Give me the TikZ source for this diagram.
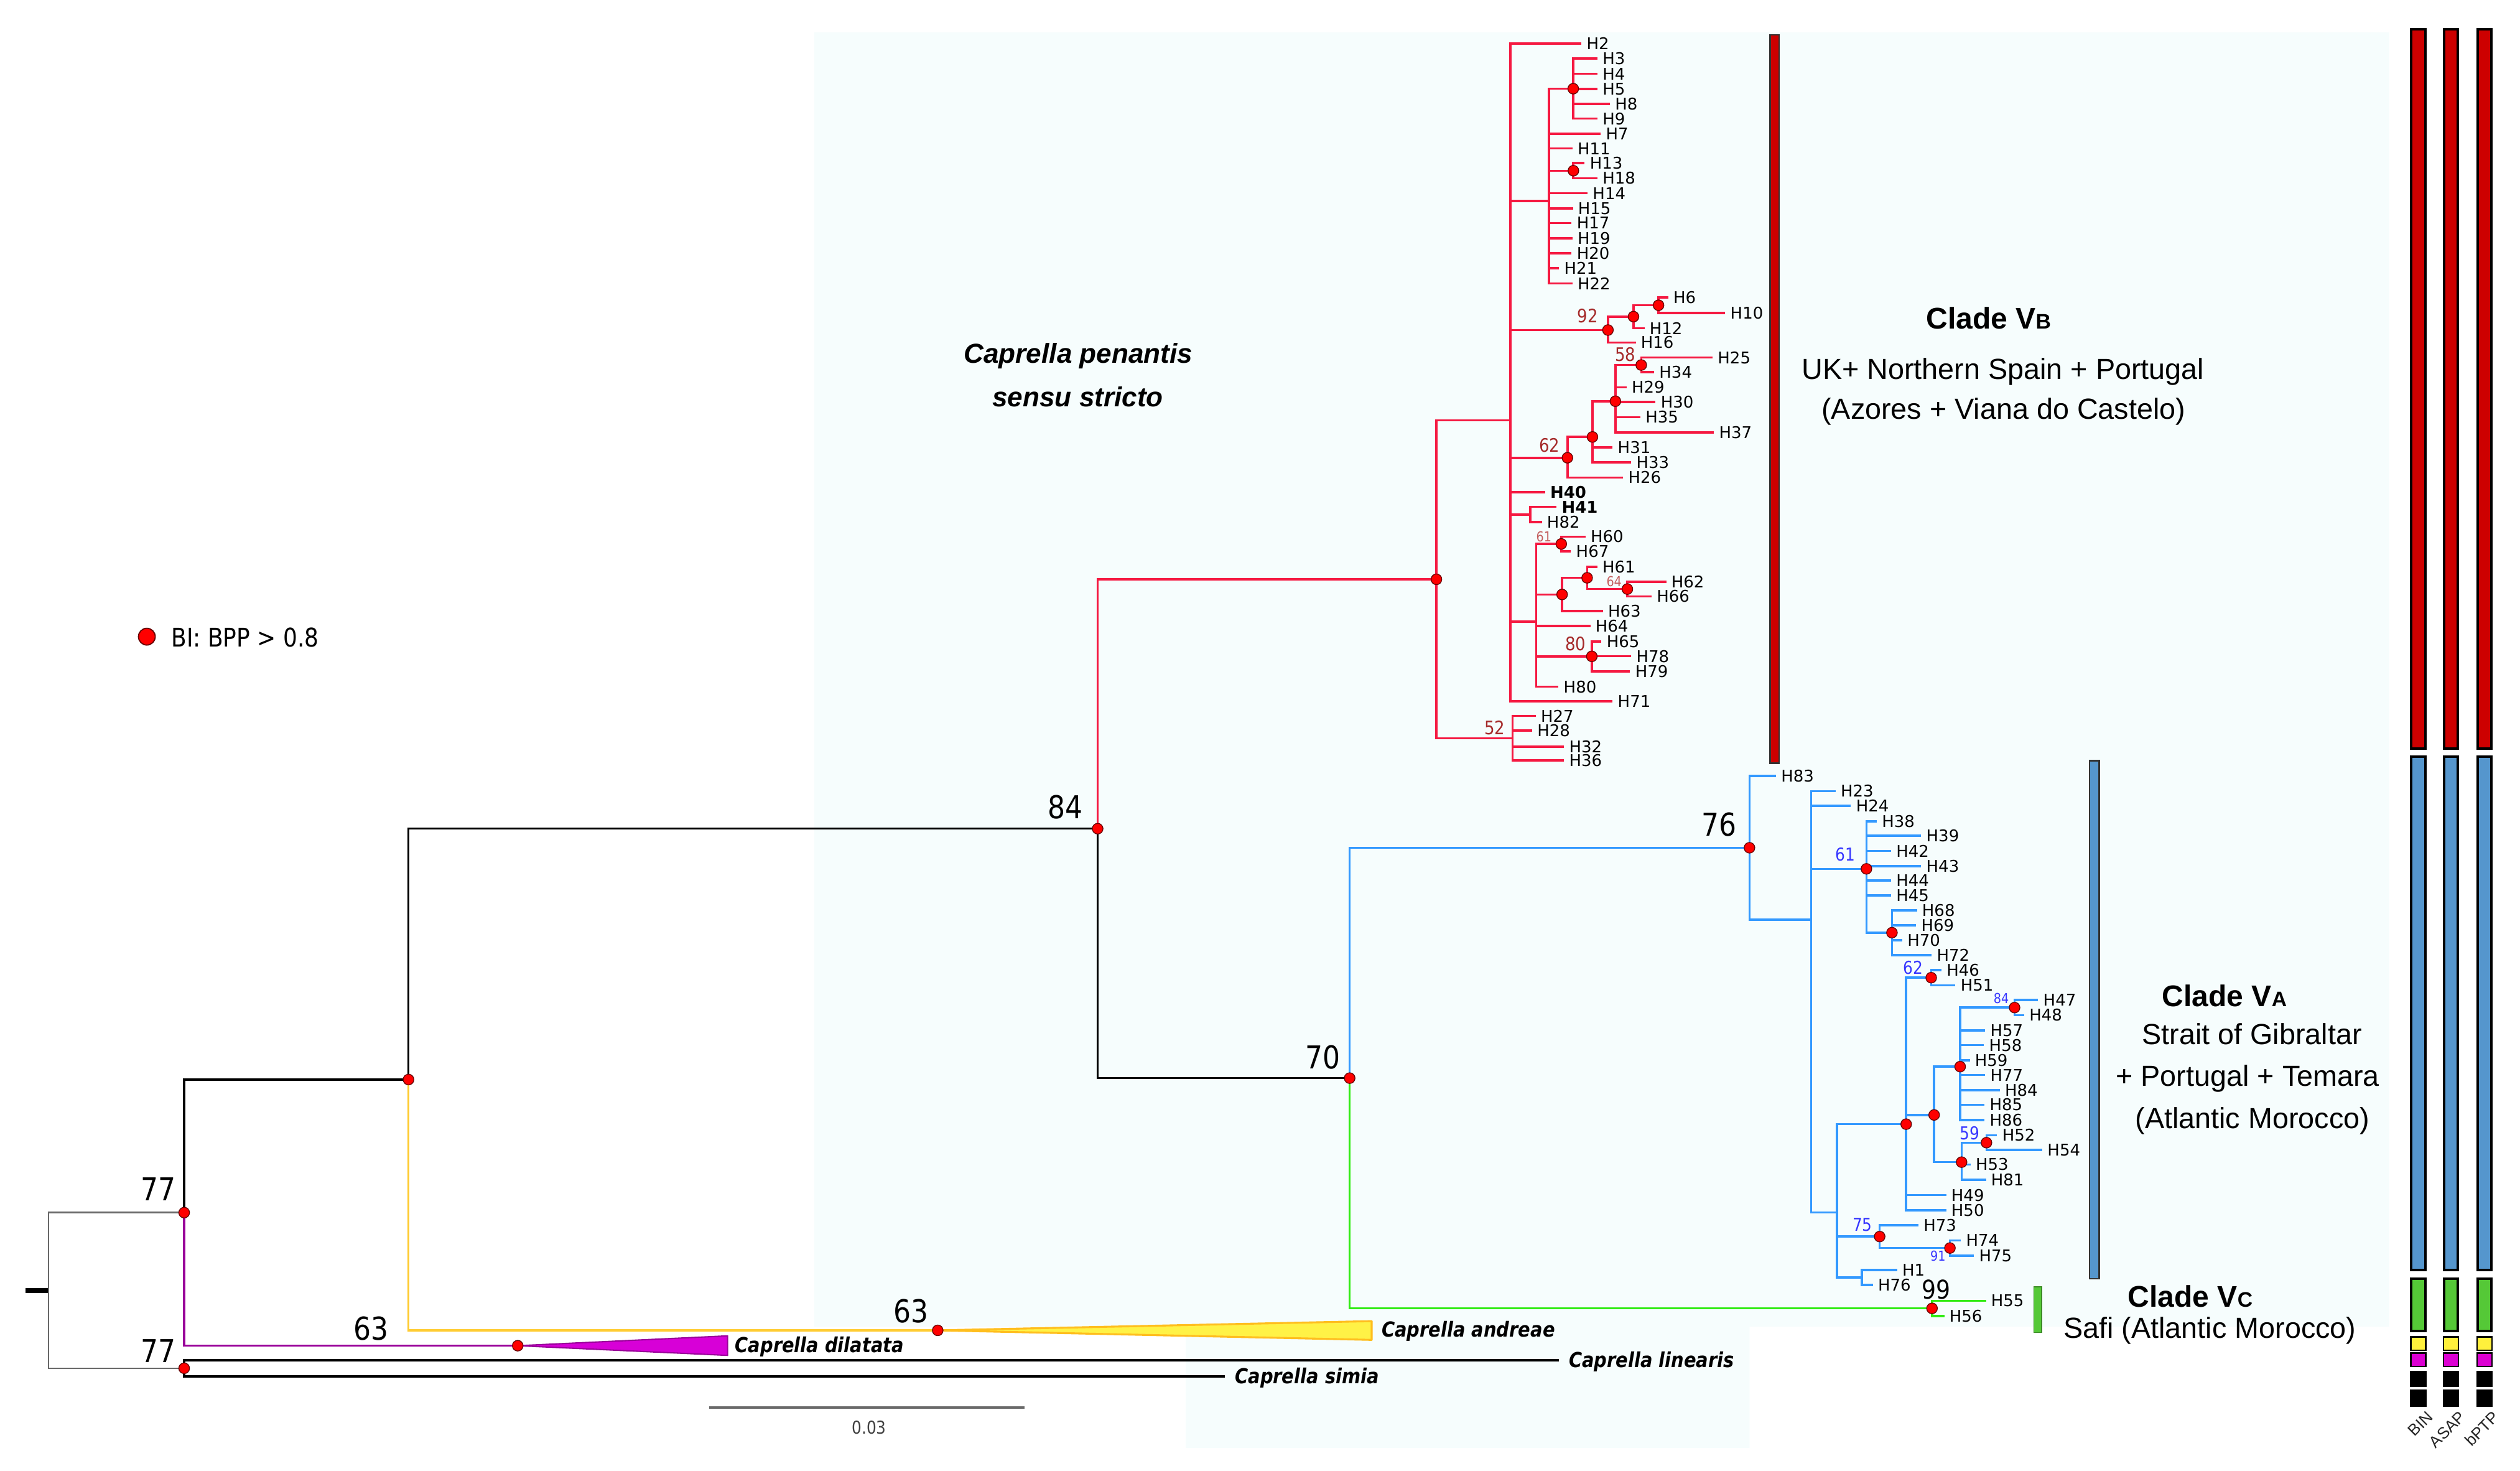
\documentclass[tikz,border=0pt]{standalone}
\usepackage{graphicx}
\usepackage{fontspec}
\newfontfamily\dv{DejaVu Sans}
\newfontfamily\dvn[FakeStretch=0.87]{DejaVu Sans}
\newfontfamily\ar{Liberation Sans}
\definecolor{cred}{RGB}{245,25,65}
\definecolor{cblue}{RGB}{51,153,255}
\definecolor{cgreen}{RGB}{50,235,20}
\definecolor{cyel}{RGB}{255,204,51}
\definecolor{cmag}{RGB}{153,0,153}
\definecolor{cgrey}{RGB}{105,105,105}
\definecolor{bgtint}{RGB}{246,253,253}
\definecolor{supred}{RGB}{165,42,42}
\definecolor{supred2}{RGB}{195,95,95}
\definecolor{supblue}{RGB}{55,55,255}
\definecolor{barred}{RGB}{205,0,0}
\definecolor{barblue}{RGB}{85,150,205}
\definecolor{bargreen}{RGB}{85,200,55}
\definecolor{baryel}{RGB}{255,240,60}
\definecolor{barmag}{RGB}{220,0,210}
\definecolor{triyel}{RGB}{255,242,70}
\definecolor{triyeledge}{RGB}{255,190,30}
\definecolor{trimag}{RGB}{215,0,215}
\newcommand\tipx[5][]{\node[tiplab,#1] (#2) at (#3,#4) {#2};\draw[br,brc] (#5) |- (#2.west);}
\newcommand\tedge[2]{\draw[br,brc] (#1) |- (#2);}
\newcommand\bpp[1]{\node[dot] (d#1) at (#1) {};}
\begin{document}
\begin{tikzpicture}[x=1pt,y=-1pt,
 br/.style={line width=1.4pt},
 brc/.style={draw=black},
 tiplab/.style={anchor=west,inner xsep=3pt,inner ysep=0pt,font=\dv\fontsize{10}{10}\selectfont,text=black},
 dot/.style={circle,fill=red,draw=black!60!red,line width=0.5pt,inner sep=0pt,minimum size=6.6pt},
 bigsup/.style={font=\dvn\fontsize{19.5}{19.5}\selectfont,text=black,inner sep=0pt},
 rsup/.style={font=\dvn\fontsize{11.5}{11.5}\selectfont,text=supred,inner sep=0pt},
 rsups/.style={font=\dvn\fontsize{8.5}{8.5}\selectfont,text=supred2,inner sep=0pt},
 bsup/.style={font=\dvn\fontsize{11}{11}\selectfont,text=supblue,inner sep=0pt},
 bsups/.style={font=\dvn\fontsize{8.5}{8.5}\selectfont,text=supblue,inner sep=0pt},
 sp/.style={font=\dvn\bfseries\itshape\fontsize{12.8}{12.8}\selectfont,anchor=base west,inner sep=0pt},
 clade/.style={font=\ar\bfseries\fontsize{18.5}{18.5}\selectfont,anchor=base,inner sep=0pt},
 region/.style={font=\ar\fontsize{18}{18}\selectfont,anchor=base,inner sep=0pt},
 barseg/.style={draw=black,line width=1.6pt},
 meth/.style={font=\ar\fontsize{10}{10}\selectfont,anchor=north east,inner sep=0pt,text=black!85}
]
\useasboundingbox (0,0) rectangle (1560,910.35);
\fill[white] (0,0) rectangle (1560,910.35);
\fill[bgtint] (504,20) -- (1479,20) -- (1479,821) -- (1083,821) -- (1083,896) -- (734,896) -- (734,821) -- (504,821) -- cycle;

% ---------- backbone ----------
\coordinate (rt) at (15.7,798.6);
\coordinate (root) at (30,798.6);
\coordinate (N77a) at (114,750.45);
\coordinate (N77b) at (114,846.75);
\coordinate (Nanc) at (252.9,668.1);
\coordinate (N84) at (679.5,512.85);
\coordinate (N70) at (835.5,667.2);
\coordinate (Ny) at (580.5,823.3);
\coordinate (Nm) at (320.5,832.8);
\coordinate (R0) at (889.2,358.5);
\coordinate (B76) at (1083.0,524.65);
\coordinate (G99) at (1196.0,809.7);
\coordinate (lin) at (965,841.8);
\coordinate (sim) at (758.2,851.7);

\draw[line width=3pt] (rt) -- (root);
\draw[cgrey,line width=1pt] (root) |- (N77a);
\draw[cgrey,line width=1pt] (root) |- (N77b);
\draw[line width=1.2pt] (N77a) |- (Nanc);
\draw[line width=1.2pt] (Nanc) |- (N84);
\draw[line width=1.2pt] (N84) |- (N70);
\draw[cyel,line width=1.2pt] (Nanc) |- (Ny);
\draw[cmag,line width=1.3pt] (N77a) |- (Nm);
\draw[line width=1.4pt] (N77b) |- (lin);
\draw[line width=1.4pt] (N77b) |- (sim);
\draw[cred,line width=1.4pt] (N84) |- (R0);
\draw[cblue,line width=1.4pt] (N70) |- (B76);
\draw[cgreen,line width=1.4pt] (N70) |- (G99);

% collapsed clades
\coordinate (yA) at (849.1,817.6);
\coordinate (yB) at (849.1,829.2);
\coordinate (mA) at (450.4,826.7);
\coordinate (mB) at (450.4,838.8);
\filldraw[fill=triyel,draw=triyeledge,line width=1.2pt,line join=round] (Ny) -- (yA) -- (yB) -- cycle;
\filldraw[fill=trimag,draw=cmag,line width=0.8pt,line join=round] (Nm) -- (mA) -- (mB) -- cycle;
\node[sp] (tand) at (855.1,827.5) {Caprella andreae};
\node[sp] (tdil) at (454.8,837.0) {Caprella dilatata};
\node[sp] (tlin) at (971,846.2) {Caprella linearis};
\node[sp] (tsim) at (764.3,856.1) {Caprella simia};

% ---------- red clade ----------
\begin{scope}[brc/.style={draw=cred}]
\coordinate (R1) at (935.0,260.1);
\coordinate (R52) at (936.4,456.9);
\coordinate (Ra) at (958.8,124.3);
\coordinate (Rb) at (973.9,54.9);
\coordinate (Rc) at (974.0,105.65);
\coordinate (R92) at (995.4,204.25);
\coordinate (Rd) at (1011.2,195.95);
\coordinate (Re) at (1026.7,188.9);
\coordinate (R62) at (970.3,283.3);
\coordinate (Rf) at (985.8,270.4);
\coordinate (Rg) at (1000.0,248.3);
\coordinate (R58) at (1016.0,225.9);
\coordinate (Rh) at (947.2,318.5);
\coordinate (Ri) at (951.0,384.7);
\coordinate (R61) at (966.5,336.6);
\coordinate (Rj) at (967.0,367.9);
\coordinate (Rk) at (982.5,357.6);
\coordinate (R64) at (1007.4,364.55);
\coordinate (R80) at (985.4,406.2);
\tedge{R0}{R1}\tedge{R0}{R52}
\tedge{R1}{Ra}\tedge{Ra}{Rb}\tedge{Ra}{Rc}
\tedge{R1}{R92}\tedge{R92}{Rd}\tedge{Rd}{Re}
\tedge{R1}{R62}\tedge{R62}{Rf}\tedge{Rf}{Rg}\tedge{Rg}{R58}
\tedge{R1}{Rh}\tedge{R1}{Ri}\tedge{Ri}{R61}\tedge{Ri}{Rj}\tedge{Rj}{Rk}\tedge{Rk}{R64}\tedge{Ri}{R80}
\tipx{H2}{979.0}{27.0}{R1}
\tipx{H3}{988.9}{36.3}{Rb}
\tipx{H4}{988.9}{45.7}{Rb}
\tipx{H5}{988.9}{55.0}{Rb}
\tipx{H8}{996.6}{64.2}{Rb}
\tipx{H9}{988.9}{73.4}{Rb}
\tipx{H7}{990.9}{82.7}{Ra}
\tipx{H11}{973.4}{91.9}{Ra}
\tipx{H13}{981.0}{101.0}{Rc}
\tipx{H18}{988.9}{110.3}{Rc}
\tipx{H14}{982.8}{119.6}{Ra}
\tipx{H15}{973.7}{129.0}{Ra}
\tipx{H17}{972.9}{138.0}{Ra}
\tipx{H19}{973.4}{147.4}{Ra}
\tipx{H20}{972.9}{156.7}{Ra}
\tipx{H21}{965.1}{166.0}{Ra}
\tipx{H22}{973.4}{175.4}{Ra}
\tipx{H6}{1032.7}{184.0}{Re}
\tipx{H10}{1068.0}{193.8}{Re}
\tipx{H12}{1018.0}{203.1}{Rd}
\tipx{H16}{1012.6}{212.0}{R92}
\tipx{H25}{1060.2}{221.3}{R58}
\tipx{H34}{1024.0}{230.4}{R58}
\tipx{H29}{1006.9}{239.7}{Rg}
\tipx{H30}{1024.9}{248.8}{Rg}
\tipx{H35}{1015.5}{258.2}{Rg}
\tipx{H37}{1061.0}{267.7}{Rg}
\tipx{H31}{998.3}{276.8}{Rf}
\tipx{H33}{1009.8}{286.1}{Rf}
\tipx{H26}{1004.8}{295.5}{R62}
\tipx[font=\dv\bfseries\fontsize{10}{10}\selectfont]{H40}{956.5}{304.6}{R1}
\tipx[font=\dv\bfseries\fontsize{10}{10}\selectfont]{H41}{963.6}{313.7}{Rh}
\tipx{H82}{954.5}{323.2}{Rh}
\tipx{H60}{981.5}{332.1}{R61}
\tipx{H67}{972.5}{341.1}{R61}
\tipx{H61}{988.8}{350.7}{Rk}
\tipx{H62}{1031.5}{360.0}{R64}
\tipx{H66}{1022.4}{369.1}{R64}
\tipx{H63}{992.3}{378.2}{Rj}
\tipx{H64}{984.5}{387.5}{Ri}
\tipx{H65}{991.4}{397.1}{R80}
\tipx{H78}{1009.8}{406.1}{R80}
\tipx{H79}{1009.1}{415.5}{R80}
\tipx{H80}{964.8}{425.0}{Ri}
\tipx{H71}{998.3}{434.1}{R1}
\tipx{H27}{950.7}{443.0}{R52}
\tipx{H28}{948.5}{452.1}{R52}
\tipx{H32}{968.2}{462.0}{R52}
\tipx{H36}{968.2}{470.5}{R52}
\end{scope}

% ---------- blue clade ----------
\begin{scope}[brc/.style={draw=cblue}]
\coordinate (Ba) at (1121.2,569.1);
\coordinate (B61) at (1155.4,537.7);
\coordinate (Bb) at (1171.2,577.2);
\coordinate (Bc) at (1137.1,750.3);
\coordinate (Bd) at (1180.0,695.7);
\coordinate (B62) at (1195.5,605.05);
\coordinate (Be) at (1197.3,690.0);
\coordinate (Bf) at (1213.4,660.1);
\coordinate (B84) at (1247.1,623.55);
\coordinate (Bg) at (1214.3,719.2);
\coordinate (B59) at (1229.7,707.15);
\coordinate (B75) at (1163.6,765.25);
\coordinate (B91) at (1207.1,772.35);
\coordinate (Bh) at (1152.6,790.55);
\tedge{B76}{Ba}\tedge{Ba}{B61}\tedge{B61}{Bb}\tedge{Ba}{Bc}\tedge{Bc}{Bd}
\tedge{Bd}{B62}\tedge{Bd}{Be}\tedge{Be}{Bf}\tedge{Bf}{B84}\tedge{Be}{Bg}\tedge{Bg}{B59}
\tedge{Bc}{B75}\tedge{B75}{B91}\tedge{Bc}{Bh}
\tipx{H83}{1099.4}{480.2}{B76}
\tipx{H23}{1136.3}{489.6}{Ba}
\tipx{H24}{1145.8}{498.7}{Ba}
\tipx{H38}{1161.8}{508.2}{B61}
\tipx{H39}{1189.3}{517.1}{B61}
\tipx{H42}{1170.7}{526.6}{B61}
\tipx{H43}{1189.3}{536.0}{B61}
\tipx{H44}{1170.7}{545.0}{B61}
\tipx{H45}{1170.7}{554.1}{B61}
\tipx{H68}{1186.7}{563.5}{Bb}
\tipx{H69}{1186.2}{572.5}{Bb}
\tipx{H70}{1177.6}{581.9}{Bb}
\tipx{H72}{1195.8}{591.0}{Bb}
\tipx{H46}{1201.9}{600.3}{B62}
\tipx{H51}{1210.5}{609.8}{B62}
\tipx{H47}{1261.7}{618.9}{B84}
\tipx{H48}{1253.1}{628.2}{B84}
\tipx{H57}{1228.9}{637.6}{Bf}
\tipx{H58}{1228.2}{646.8}{Bf}
\tipx{H59}{1219.4}{656.2}{Bf}
\tipx{H77}{1228.9}{665.3}{Bf}
\tipx{H84}{1238.0}{674.6}{Bf}
\tipx{H85}{1228.5}{683.7}{Bf}
\tipx{H86}{1228.5}{693.2}{Bf}
\tipx{H52}{1236.3}{702.6}{B59}
\tipx{H54}{1264.3}{711.7}{B59}
\tipx{H53}{1219.9}{720.7}{Bg}
\tipx{H81}{1229.4}{730.1}{Bg}
\tipx{H49}{1204.8}{739.6}{Bd}
\tipx{H50}{1204.8}{749.0}{Bd}
\tipx{H73}{1187.6}{758.2}{B75}
\tipx{H74}{1213.9}{767.6}{B91}
\tipx{H75}{1222.0}{777.1}{B91}
\tipx{H1}{1174.4}{786.0}{Bh}
\tipx{H76}{1159.4}{795.1}{Bh}
\end{scope}

% ---------- green clade ----------
\begin{scope}[brc/.style={draw=cgreen}]
\tipx{H55}{1229.4}{805.0}{G99}
\tipx{H56}{1203.6}{814.4}{G99}
\end{scope}

% ---------- posterior dots ----------
\foreach \n in {N77a,N77b,Nanc,N84,N70,Ny,Nm,R0,Rb,Rc,R92,Rd,Re,R62,Rf,Rg,R58,R61,Rj,Rk,R64,R80,B76,B61,Bb,B62,Bd,Be,Bf,B84,Bg,B59,B75,B91,G99}{\bpp{\n}}

% ---------- support values ----------
\node[bigsup] (s77a) at (98,736) {77};
\node[bigsup] (s77b) at (98,836.2) {77};
\node[bigsup] (s63m) at (229.7,822) {63};
\node[bigsup] (s63y) at (564,811.5) {63};
\node[bigsup] (s84) at (659.5,499.3) {84};
\node[bigsup] (s70) at (819,654.3) {70};
\node[bigsup] (s76) at (1064.3,510.2) {76};
\node[bigsup,font=\dvn\fontsize{16}{16}\selectfont] (s99) at (1198.7,798) {99};
\node[rsup] (s92) at (982.8,195.3) {92};
\node[rsup] (s58) at (1006.2,219.5) {58};
\node[rsup] (s62r) at (959.1,275.4) {62};
\node[rsups] (s61r) at (955.7,332.3) {61};
\node[rsups] (s64) at (999.2,359.8) {64};
\node[rsup] (s80) at (975.4,398.5) {80};
\node[rsup] (s52) at (925.2,450.4) {52};
\node[bsup] (s61b) at (1142.3,528.6) {61};
\node[bsup] (s62b) at (1184.2,598.8) {62};
\node[bsups] (s84b) at (1238.9,617.9) {84};
\node[bsup] (s59) at (1219.4,701.1) {59};
\node[bsup] (s75) at (1152.9,757.8) {75};
\node[bsups] (s91) at (1199.7,777.2) {91};

% ---------- clade bars ----------
\filldraw[fill=barred,draw=black!80,line width=1pt] (1095.8,21.6) rectangle (1101.4,472.3);
\filldraw[fill=barblue,draw=black!80,line width=1pt] (1293.5,470.7) rectangle (1299.4,791.3);
\filldraw[fill=bargreen,draw=bargreen!70!black,line width=0.6pt] (1259.1,796.3) rectangle (1263.8,824.7);

% ---------- clade texts ----------
\node[clade] (cVB) at (1231,203.5) {Clade V{\fontsize{13}{13}\selectfont B}};
\node[region] (rVB1) at (1239.9,234.9) {UK+ Northern Spain + Portugal};
\node[region] (rVB2) at (1240.3,259.5) {(Azores + Viana do Castelo)};
\node[clade] (cVA) at (1377,622.8) {Clade V{\fontsize{13}{13}\selectfont A}};
\node[region] (rVA1) at (1394,646.3) {Strait of Gibraltar};
\node[region] (rVA2) at (1391.4,672) {+ Portugal + Temara};
\node[region] (rVA3) at (1394.3,698.3) {(Atlantic Morocco)};
\node[clade] (cVC) at (1355.9,808.7) {Clade V{\fontsize{13}{13}\selectfont C}};
\node[region] (rVC1) at (1368,828) {Safi (Atlantic Morocco)};

\node[font=\ar\bfseries\itshape\fontsize{17}{17}\selectfont,anchor=base,inner sep=0pt] (pen1) at (667.5,224.6) {Caprella penantis};
\node[font=\ar\bfseries\itshape\fontsize{17}{17}\selectfont,anchor=base,inner sep=0pt] (pen2) at (667.2,251.6) {sensu stricto};

% ---------- legend ----------
\node[dot,minimum size=10.4pt,line width=0.7pt] (legdot) at (90.9,394) {};
\node[font=\dvn\fontsize{15.9}{15.9}\selectfont,anchor=base west,inner sep=0pt] (legtxt) at (105.9,400.2) {BI: BPP > 0.8};

% ---------- scale bar ----------
\coordinate (sbA) at (439,870.9);
\coordinate (sbB) at (634.3,870.9);
\draw[cgrey,line width=1.5pt] (sbA) -- (sbB);
\node[font=\dvn\fontsize{11}{11}\selectfont,text=black!75,inner sep=0pt] (sbl) at (538,883.6) {0.03};

% ---------- delimitation bars ----------
\foreach \x/\nm/\lab in {1491.8/bin/BIN,1512.1/asap/ASAP,1532.9/bptp/bPTP}{
  \filldraw[barseg,fill=barred] (\x+0.8,18.2) rectangle (\x+9.5,463.2);
  \filldraw[barseg,fill=barblue] (\x+0.8,468.2) rectangle (\x+9.5,785.8);
  \filldraw[barseg,fill=bargreen] (\x+0.8,791.4) rectangle (\x+9.5,823.6);
  \filldraw[barseg,fill=baryel,line width=1pt] (\x+0.5,827.3) rectangle (\x+9.8,835.7);
  \filldraw[barseg,fill=barmag,line width=1pt] (\x+0.5,837.3) rectangle (\x+9.8,845.7);
  \filldraw[barseg,fill=black,line width=1pt] (\x+0.5,849.0) rectangle (\x+9.8,857.7);
  \filldraw[barseg,fill=black,line width=1pt] (\x+0.5,860.3) rectangle (\x+9.8,870.3);
  \node[meth] (m\nm) at (\x+15,872.5) {\rotatebox{45}{\lab}};
}
\end{tikzpicture}
\end{document}
